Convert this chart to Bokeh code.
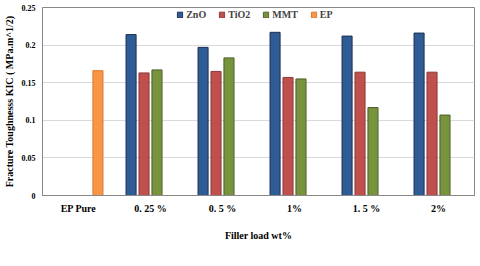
from bokeh.plotting import figure
from bokeh.models import ColumnDataSource, FactorRange, Legend, LegendItem, Range1d, FixedTicker
from bokeh.transform import dodge
from bokeh.embed import file_html
from bokeh.resources import INLINE

categories = ["EP Pure", "0. 25 %", "0. 5 %", "1%", "1. 5 %", "2%"]
filler_cats = ["0. 25 %", "0. 5 %", "1%", "1. 5 %", "2%"]
zno = [0.214, 0.197, 0.217, 0.212, 0.216]
tio2 = [0.163, 0.165, 0.157, 0.164, 0.164]
mmt = [0.167, 0.183, 0.155, 0.117, 0.107]
ep_cats = ["EP Pure"]
ep = [0.166]
y_ticks = [0, 0.05, 0.1, 0.15, 0.2, 0.25]
y_tick_labels = ["0", "0.05", "0.1", "0.15", "0.2", "0.25"]

series = [
    ("ZnO", filler_cats, zno, "#2F5C94", "#1c2f55", -0.27),
    ("TiO2", filler_cats, tio2, "#C0504D", "#8c3a38", -0.09),
    ("MMT", filler_cats, mmt, "#77933C", "#4d5f2a", 0.09),
    ("EP", ep_cats, ep, "#F79646", "#d97a30", 0.27),
]

FONT = "Liberation Serif"

p = figure(frame_width=432, frame_height=188, x_range=FactorRange(*categories, range_padding=0),
           y_range=Range1d(0, 0.25), output_backend="svg", toolbar_location=None)
p.min_border_left = 0
p.min_border_right = 1
p.min_border_top = 7
p.min_border_bottom = 0

items = []
for name, cats, vals, fill, line, off in series:
    src = ColumnDataSource(dict(x=cats, y=vals))
    r = p.vbar(x=dodge("x", off, range=p.x_range), top="y", width=0.14, source=src,
               fill_color=fill, line_color=line, line_width=1)
    items.append(LegendItem(label=name, renderers=[r]))

p.outline_line_color = "#888888"
p.outline_line_width = 1
p.xgrid.grid_line_color = None
p.ygrid.grid_line_color = "#d9d9d9"

p.yaxis.ticker = FixedTicker(ticks=y_ticks)
p.yaxis.major_label_overrides = {t: l for t, l in zip(y_ticks, y_tick_labels)}
p.yaxis.axis_label = "Fracture Toughnesss KIC ( MPa.m^1/2)"
p.xaxis.axis_label = "Filler load wt%"
for ax in (p.xaxis, p.yaxis):
    ax.major_tick_line_color = None
    ax.minor_tick_line_color = None
    ax.major_tick_out = 0
    ax.major_tick_in = 0
    ax.minor_tick_out = 0
    ax.minor_tick_in = 0
    ax.axis_line_color = "#888888"
    ax.axis_label_text_font = FONT
    ax.axis_label_text_font_style = "bold"
    ax.axis_label_text_font_size = "10px"
    ax.axis_label_text_color = "#000000"
    ax.major_label_text_font = FONT
    ax.major_label_text_font_style = "bold"
    ax.major_label_text_color = "#000000"
p.yaxis.major_label_text_font_size = "8px"
p.xaxis.major_label_text_font_size = "10px"
p.yaxis.axis_label_standoff = 4
p.yaxis.major_label_standoff = 7
p.xaxis.major_label_standoff = 7
p.xaxis.axis_label_standoff = 13

legend = Legend(items=items, orientation="horizontal", location="top_center",
                label_text_font=FONT, label_text_font_style="bold",
                label_text_font_size="10px", glyph_width=7, glyph_height=7,
                label_height=10, label_standoff=3, spacing=12, padding=1, margin=2,
                border_line_color=None, background_fill_alpha=0)
p.add_layout(legend)

open("out.html", "w").write(file_html(p, INLINE))
